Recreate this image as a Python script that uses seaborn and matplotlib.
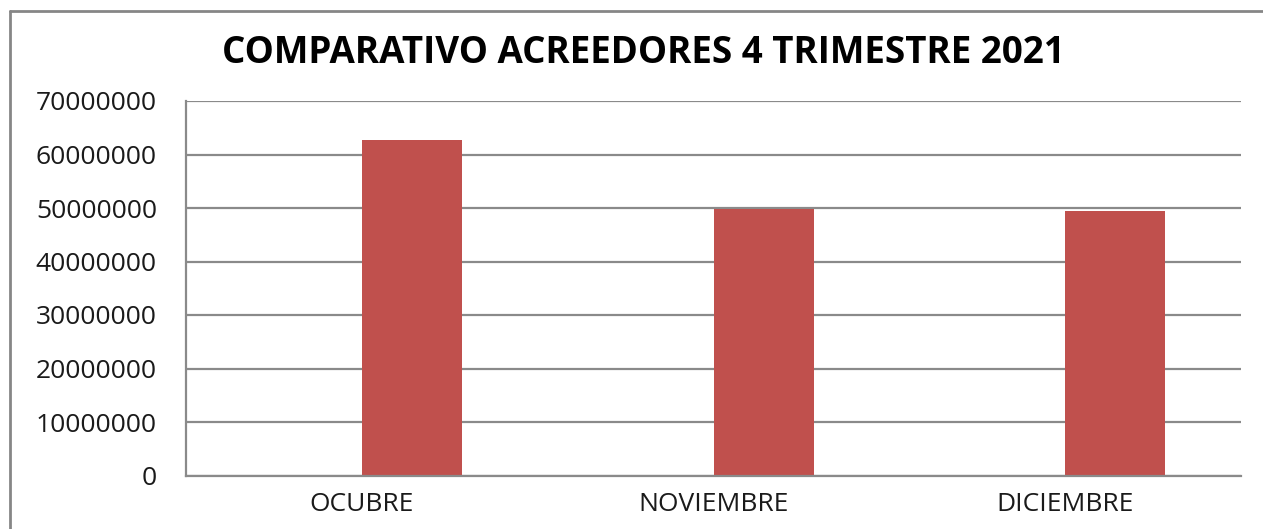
import matplotlib
matplotlib.use("Agg")
import matplotlib.pyplot as plt
from matplotlib.lines import Line2D
import seaborn as sns
import pandas as pd

# Datos del gráfico
meses = ["OCUBRE", "NOVIEMBRE", "DICIEMBRE"]
acreedores = [62800000, 49800000, 49500000]
serie_vacia = [0, 0, 0]
ticks_y = [0, 10000000, 20000000, 30000000, 40000000, 50000000, 60000000, 70000000]
titulo = "COMPARATIVO ACREEDORES 4 TRIMESTRE 2021"

df = pd.DataFrame({
    "mes": meses * 2,
    "serie": ["vacia"] * len(meses) + ["acreedores"] * len(meses),
    "valor": serie_vacia + acreedores,
})

sns.set_theme(style="white")
plt.rcParams["font.family"] = ["Open Sans", "DejaVu Sans"]

GRIS = "#8a8a8a"
ROJO = "#C0504D"

fig = plt.figure(figsize=(12.63, 5.29), dpi=100)
ax = fig.add_axes([186 / 1263, 1 - 475.5 / 529, (1241 - 186) / 1263, (475.5 - 101) / 529])

sns.barplot(
    data=df, x="mes", y="valor", hue="serie", hue_order=["vacia", "acreedores"],
    order=meses, palette={"vacia": "white", "acreedores": ROJO},
    width=0.57, dodge=True, saturation=1, edgecolor="none", linewidth=0,
    legend=False, ax=ax,
)

ax.set_xlim(-0.5, len(meses) - 0.5)
ax.set_ylim(0, 70000000)
ax.set_yticks(ticks_y)
ax.set_yticklabels([str(t) for t in ticks_y])
ax.set_xlabel("")
ax.set_ylabel("")

ax.grid(axis="y", color=GRIS, linewidth=1.6)
ax.set_axisbelow(True)
for side in ["top", "right"]:
    ax.spines[side].set_visible(False)
for side in ["left", "bottom"]:
    ax.spines[side].set_color(GRIS)
    ax.spines[side].set_linewidth(1.6)

ax.tick_params(axis="both", length=0, labelsize=19, colors="#1a1a1a")
ax.tick_params(axis="y", pad=21)
ax.tick_params(axis="x", pad=12)

fig.text(643 / 1263, 1 - 53 / 529, titulo, ha="center", va="center",
         fontsize=26.5, fontweight="bold", color="black")

# Marco del área del gráfico
x0 = 10 / 1263
y0 = 1 - 11 / 529
fig.add_artist(Line2D([x0, 1.0], [y0, y0], transform=fig.transFigure, color="#868686", linewidth=2))
fig.add_artist(Line2D([x0, x0], [0.0, y0], transform=fig.transFigure, color="#868686", linewidth=2))

fig.savefig("out.png", dpi=100, facecolor="white")
